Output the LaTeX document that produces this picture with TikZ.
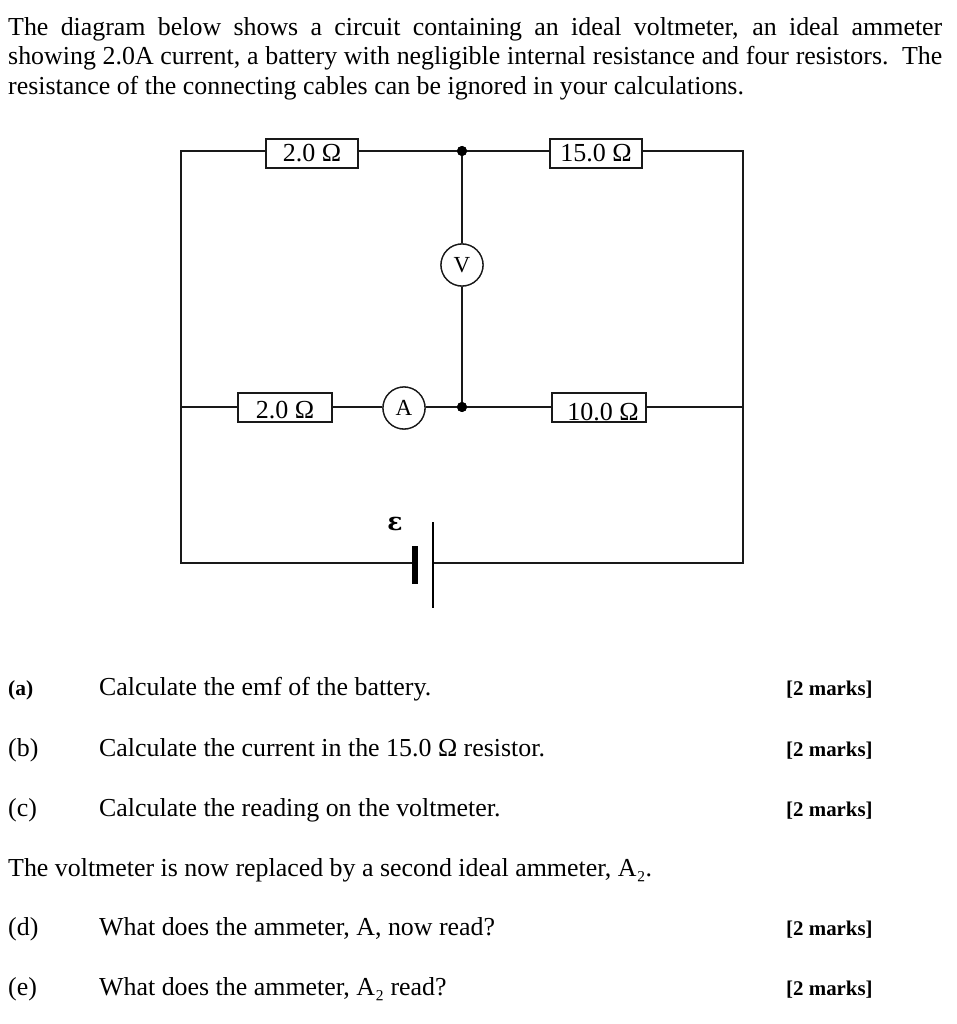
\documentclass[tikz,border=0pt]{standalone}
\usepackage{fontspec}
\setmainfont{Liberation Serif}
\newfontfamily\symfont{DejaVu Serif}
\begin{document}
\begin{tikzpicture}[x=1pt,y=-1pt,
  wire/.style={draw=black!90,line width=1.8pt},
  res/.style={draw=black!90,line width=1.8pt,fill=white,minimum height=29pt,inner sep=0pt,font=\fontsize{26}{26}\selectfont},
  meter/.style={circle,draw=black!90,line width=1.3pt,fill=white,minimum size=42pt,inner sep=0pt,font=\fontsize{23}{23}\selectfont},
  dotj/.style={circle,fill=black,minimum size=10pt,inner sep=0pt},
  body/.style={anchor=base west,inner sep=0pt,font=\fontsize{25.9}{25.9}\selectfont},
  marks/.style={anchor=base west,inner sep=0pt,font=\fontsize{20.9}{20.9}\selectfont\bfseries}]
\useasboundingbox[fill=white] (0,0) rectangle (956,1024);
% text
\node[body] (l1) at (8,36) {\makebox[934pt][s]{The diagram below shows a circuit containing an ideal voltmeter, an ideal ammeter}};
\node[body] (l2) at (8,65) {\makebox[934pt][s]{showing 2.0A current, a battery with negligible internal resistance and four resistors.\ \ The}};
\node[body] (l3) at (8,95) {resistance of the connecting cables can be ignored in your calculations.};
% corners and junctions
\coordinate (tl) at (181,151);
\coordinate (tr) at (743,151);
\coordinate (ml) at (181,407);
\coordinate (mr) at (743,407);
\coordinate (bl) at (181,563);
\coordinate (br) at (743,563);
\node[dotj] (jt) at (462,151) {};
\node[dotj] (jm) at (462,407) {};
\node[res,minimum width=92pt] (r1) at (312,153.5) {};
\node[res,minimum width=92pt] (r2) at (596,153.5) {};
\node[res,minimum width=94pt] (r3) at (285,407.5) {};
\node[res,minimum width=94pt] (r4) at (599,407.5) {};
\node[meter] (V) at (462,265) {};
\node[meter] (A) at (404,408) {};
\coordinate (bp) at (415,563);
\coordinate (bn) at (433,563);
\coordinate (bpt) at (415,546);
\coordinate (bpb) at (415,584);
\coordinate (bnt) at (433,522);
\coordinate (bnb) at (433,608);
\draw[wire] (r1.west |- tl) -- (tl) -- (bl) -- (bp);
\draw[wire] (r1.east |- tl) -- (jt) -- (r2.west |- tl);
\draw[wire] (r2.east |- tr) -- (tr) -- (br) -- (bn);
\draw[wire] (ml) -- (r3.west |- ml);
\draw[wire] (r3.east |- ml) -- (A.west |- ml);
\draw[wire] (A.east |- ml) -- (jm) -- (r4.west |- mr);
\draw[wire] (r4.east |- mr) -- (mr);
\draw[wire] (jt) -- (V) -- (jm);
\node[meter] at (V) {V};
\node[meter] at (A) {A};
\node[dotj] at (jt) {};
\node[dotj] at (jm) {};
\draw[line width=6pt] (bpt) -- (bpb);
\draw[line width=2.6pt] (bnt) -- (bnb);
% labels
\node[res,draw=none,fill=none,anchor=base,minimum height=0pt] (t1) at (312,162) {2.0 Ω};
\node[res,draw=none,fill=none,anchor=base,minimum height=0pt] (t2) at (596,162) {15.0 Ω};
\node[res,draw=none,fill=none,anchor=base,minimum height=0pt] (t3) at (285,418) {2.0 Ω};
\node[res,draw=none,fill=none,anchor=base,minimum height=0pt] (t4) at (603,420) {10.0 Ω};
\node[anchor=base,inner sep=0pt,font=\fontsize{25}{25}\selectfont\bfseries\symfont] (eps) at (395,530) {ε};
% questions
\node[body,font=\fontsize{21.5}{21.5}\selectfont\bfseries] (qa) at (8,695) {(a)};
\node[body] (ta) at (99,695) {Calculate the emf of the battery.};
\node[marks] (ma) at (786,695) {[2 marks]};
\node[body] (qb) at (8,756) {(b)};
\node[body] (tb) at (99,756) {Calculate the current in the 15.0 Ω resistor.};
\node[marks] (mb) at (786,756) {[2 marks]};
\node[body] (qc) at (8,816) {(c)};
\node[body] (tc) at (99,816) {Calculate the reading on the voltmeter.};
\node[marks] (mc) at (786,816) {[2 marks]};
\node[body] (tv) at (8,876) {The voltmeter is now replaced by a second ideal ammeter, A₂.};
\node[body] (qd) at (8,935) {(d)};
\node[body] (td) at (99,935) {What does the ammeter, A, now read?};
\node[marks] (md) at (786,935) {[2 marks]};
\node[body] (qe) at (8,995) {(e)};
\node[body] (te) at (99,995) {What does the ammeter, A₂ read?};
\node[marks] (me) at (786,995) {[2 marks]};
\end{tikzpicture}
\end{document}
